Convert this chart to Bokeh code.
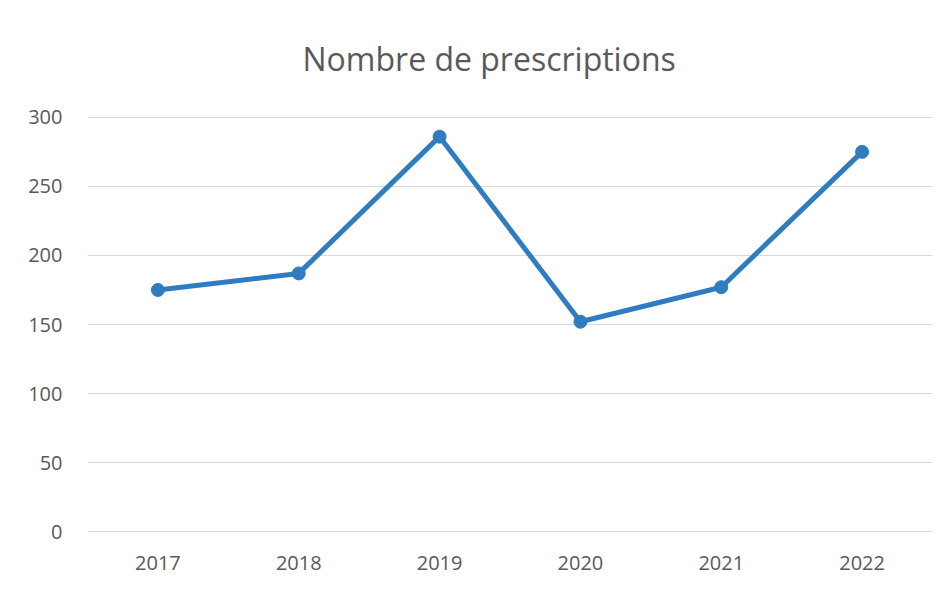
from bokeh.plotting import figure
from bokeh.models import Range1d, FixedTicker, Title, FactorRange, ColumnDataSource
from bokeh.embed import file_html
from bokeh.resources import INLINE

title_text = "Nombre de prescriptions"
years = ["2017", "2018", "2019", "2020", "2021", "2022"]
prescriptions = [175, 187, 286, 152, 177, 275]
y_ticks = [0, 50, 100, 150, 200, 250, 300]

source = ColumnDataSource(data=dict(year=years, value=prescriptions))

p = figure(
    width=940, height=575,
    x_range=FactorRange(*years, range_padding=0),
    y_range=Range1d(-0.6, 300.6),
    output_backend="svg", toolbar_location=None,
    min_border_left=87, min_border_right=8, min_border_bottom=43, min_border_top=0,
    background_fill_color="white", border_fill_color="white",
)
p.outline_line_color = None

# titles added later sit farther from the frame
p.add_layout(Title(text=" ", text_font_size="18px"), "above")
p.add_layout(Title(text=title_text, align="left", offset=215,
                   text_font="Open Sans", text_font_size="32px",
                   text_font_style="normal", text_color="#595959"), "above")
p.add_layout(Title(text=" ", text_font_size="15px"), "above")

line_color = "#2f7cc0"
p.line(x="year", y="value", source=source, line_color=line_color, line_width=5)
p.scatter(x="year", y="value", source=source, size=13, fill_color=line_color,
          line_color=line_color)

p.yaxis.ticker = FixedTicker(ticks=y_ticks)
for ax in (p.xaxis[0], p.yaxis[0]):
    ax.axis_line_color = None
    ax.major_tick_line_color = None
    ax.minor_tick_line_color = None
    ax.major_label_text_font = "Open Sans"
    ax.major_label_text_font_size = "20px"
    ax.major_label_text_color = "#595959"
p.yaxis.major_label_standoff = 19
p.xaxis.major_label_standoff = 17

p.xgrid.grid_line_color = None
p.ygrid.grid_line_color = "#d9d9d9"
p.ygrid.grid_line_width = 1
p.ygrid.ticker = FixedTicker(ticks=y_ticks)

open("out.html", "w").write(file_html(p, INLINE))
